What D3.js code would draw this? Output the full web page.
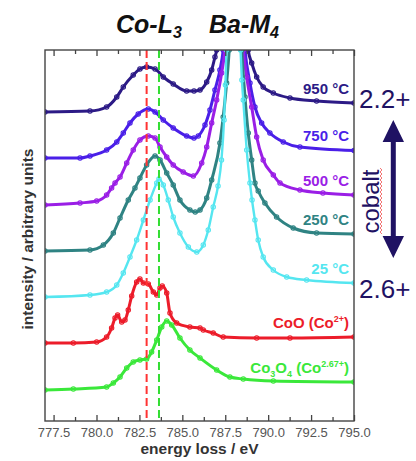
<!DOCTYPE html>
<html>
<head>
<meta charset="utf-8">
<script src="https://cdn.jsdelivr.net/npm/d3@7"></script>
<style>
  body { margin: 0; background: #fff; }
  svg { display: block; font-family: "Liberation Sans", Arial, sans-serif; }
</style>
</head>
<body>
<svg id="chart" width="416" height="461"></svg>
<script>
// energy loss (eV) and intensity (arb. units)
var e950 = [777.00, 779.62, 780.59, 781.18, 781.56, 782.14, 782.53, 782.92, 783.41, 783.89, 784.47, 785.25, 785.68, 786.03, 786.42, 786.71, 786.90, 787.00, 787.20, 787.92, 788.64, 788.84, 789.04, 789.33, 789.71, 790.30, 791.27, 792.82, 795.00];
var i950 = [30.9, 31.0, 31.4, 32.4, 33.4, 34.6, 35.2, 35.4, 35.2, 34.4, 33.7, 33.0, 33.0, 33.1, 33.9, 35.1, 36.4, 37.1, 41.5, 56, 41.5, 37.1, 35.8, 34.4, 33.4, 32.8, 32.3, 32.0, 31.8];

var e750 = [777.00, 779.04, 779.62, 780.59, 781.18, 781.56, 781.95, 782.43, 783.02, 783.41, 783.89, 784.47, 785.25, 785.68, 785.93, 786.32, 786.61, 786.90, 787.19, 787.38, 787.55, 787.92, 788.48, 788.65, 788.94, 789.23, 789.62, 790.10, 790.88, 791.85, 795.00];
var i750 = [26.3, 26.3, 26.5, 27.1, 27.9, 28.8, 29.8, 30.7, 31.2, 30.9, 30.1, 29.3, 28.5, 28.3, 28.5, 29.6, 31.1, 33.1, 35.1, 37.1, 41.0, 52, 41.0, 37.1, 33.8, 31.4, 29.8, 28.8, 27.9, 27.4, 27.05];

var e500 = [777.00, 779.04, 780.01, 780.59, 780.88, 781.08, 781.37, 781.76, 782.14, 782.53, 783.02, 783.41, 783.70, 784.09, 784.47, 785.05, 785.64, 786.13, 786.42, 786.71, 787.00, 787.29, 787.48, 787.62, 787.92, 788.42, 788.55, 788.75, 789.04, 789.33, 789.71, 790.30, 790.69, 791.85, 793.19, 795.00];
var i500 = [21.6, 21.8, 22.0, 22.6, 23.3, 23.8, 24.4, 25.8, 27.1, 28.1, 28.5, 28.3, 27.4, 26.4, 25.6, 24.9, 24.5, 25.8, 27.4, 29.8, 32.1, 34.8, 37.1, 40.5, 48, 40.5, 37.1, 34.4, 31.4, 28.4, 26.1, 24.6, 23.8, 23.1, 22.8, 22.6];

var e250 = [777.00, 779.62, 780.40, 780.98, 781.37, 781.85, 782.24, 782.53, 782.92, 783.41, 783.70, 784.09, 784.47, 784.86, 785.44, 785.75, 786.03, 786.42, 786.71, 787.19, 787.38, 787.58, 787.73, 787.83, 787.95, 788.36, 788.46, 788.65, 788.84, 789.04, 789.23, 789.42, 789.81, 790.49, 791.46, 792.82, 795.00];
var i250 = [17.0, 17.1, 17.6, 18.8, 20.3, 22.1, 23.3, 24.3, 25.6, 26.5, 26.1, 24.8, 23.6, 22.1, 21.1, 20.9, 21.1, 22.3, 24.1, 27.8, 30.4, 33.8, 37.1, 40.5, 46, 40.5, 37.1, 32.4, 28.8, 26.1, 23.8, 23.0, 21.8, 20.4, 19.3, 18.8, 18.7];

var e25 = [777.00, 779.62, 780.59, 781.18, 781.56, 781.95, 782.34, 782.73, 783.12, 783.51, 783.64, 783.89, 784.18, 784.47, 784.86, 785.35, 785.84, 786.22, 786.51, 786.80, 787.08, 787.28, 787.43, 787.51, 787.57, 787.66, 787.97, 788.30, 788.39, 788.47, 788.55, 788.75, 788.94, 789.06, 789.23, 789.42, 789.71, 790.30, 791.08, 792.24, 795.00];
var i25 = [12.4, 12.6, 12.9, 13.6, 14.8, 16.4, 18.1, 20.1, 22.1, 23.8, 24.2, 23.6, 22.1, 20.4, 18.8, 17.4, 16.9, 17.6, 19.1, 21.4, 23.5, 26.1, 30.1, 33.6, 37.1, 40.1, 60, 40.1, 37.1, 34.1, 32.1, 27.1, 23.8, 22.1, 20.1, 18.1, 16.4, 15.1, 14.4, 14.1, 13.8];

var eCoO = [777.00, 778.65, 780.01, 780.59, 780.88, 781.08, 781.23, 781.47, 781.66, 781.85, 782.05, 782.34, 782.53, 782.73, 783.02, 783.31, 783.51, 783.70, 783.83, 784.09, 784.28, 784.67, 785.44, 786.03, 786.22, 786.80, 787.38, 789.33, 791.27, 795.00];
var iCoO = [7.8, 7.8, 7.9, 8.4, 9.3, 10.3, 10.6, 9.9, 10.1, 11.1, 12.5, 13.9, 14.2, 13.8, 13.7, 12.9, 12.6, 13.3, 13.5, 12.8, 10.8, 9.8, 9.4, 9.3, 9.1, 8.8, 8.4, 8.3, 8.3, 8.4];

var eCo3O4 = [777.00, 778.65, 780.59, 780.98, 781.37, 781.76, 782.14, 782.53, 782.92, 783.21, 783.51, 783.80, 784.09, 784.38, 784.86, 785.44, 786.03, 787.00, 787.77, 788.55, 790.30, 795.00];
var iCo3O4 = [3.1, 3.2, 3.4, 3.8, 4.4, 5.3, 5.9, 6.1, 6.2, 6.9, 8.1, 9.4, 10.0, 9.6, 8.3, 7.1, 6.3, 5.1, 4.4, 4.2, 4.0, 3.9];

var xTicks = [777.5, 780.0, 782.5, 785.0, 787.5, 790.0, 792.5, 795.0];
var xMinor = [778.75, 781.25, 783.75, 786.25, 788.75, 791.25, 793.75];
var refLines = [782.92, 783.64]; // Co2+ and Co2.67+ peak positions

var series = [
  { label: "950 °C", e: e950, i: i950 },
  { label: "750 °C", e: e750, i: i750 },
  { label: "500 °C", e: e500, i: i500 },
  { label: "250 °C", e: e250, i: i250 },
  { label: "25 °C",  e: e25,  i: i25 },
  { label: "CoO",    e: eCoO, i: iCoO },
  { label: "Co3O4",  e: eCo3O4, i: iCo3O4 }
];
var colors = ["#2c1a86", "#4a1fe8", "#9a1ee6", "#2f8383", "#55e6f0", "#ec1c2a", "#3ae83a"];
var refColors = ["#ff3333", "#33dd33"];

var svg = d3.select("#chart");
var mLeft = 45, mRight = 354, mTop = 50, mBottom = 421;

var x = d3.scaleLinear().domain([777, 795]).range([mLeft, mRight]);
var y = d3.scaleLinear().domain([0, 37.1]).range([mBottom, mTop]);

svg.append("defs").append("clipPath").attr("id", "plot")
  .append("rect")
  .attr("x", mLeft).attr("y", mTop).attr("width", mRight - mLeft).attr("height", mBottom - mTop);

var line = d3.line()
  .x(function (d) { return x(d[0]); })
  .y(function (d) { return y(d[1]); })
  .curve(d3.curveMonotoneX);

var plot = svg.append("g").attr("clip-path", "url(#plot)");

series.forEach(function (s, k) {
  var pts = s.e.map(function (v, j) { return [v, s.i[j]]; });
  var g = plot.append("g");
  g.append("path").datum(pts)
    .attr("d", line)
    .attr("fill", "none")
    .attr("stroke", colors[k])
    .attr("stroke-width", k == 4 ? 2.4 : 3)
    .attr("stroke-linejoin", "round");
  // open markers, as in the measured spectra
  g.selectAll("circle").data(pts).enter().append("circle")
    .attr("cx", function (d) { return x(d[0]); })
    .attr("cy", function (d) { return y(d[1]); })
    .attr("r", 2.2)
    .attr("fill", "none")
    .attr("stroke", colors[k])
    .attr("stroke-width", 1.1);
});

// dashed reference lines
plot.selectAll(".ref").data(refLines).enter().append("line")
  .attr("x1", function (d) { return x(d); }).attr("x2", function (d) { return x(d); })
  .attr("y1", mTop).attr("y2", mBottom)
  .attr("stroke", function (d, k) { return refColors[k]; })
  .attr("stroke-width", 2)
  .attr("stroke-dasharray", "8,4");

// curve labels
var labels = svg.append("g")
  .attr("font-weight", "bold").attr("font-size", 15).attr("text-anchor", "end");
series.forEach(function (s, k) {
  var t = labels.append("text")
    .attr("x", mRight - 5)
    .attr("y", y(s.i[s.i.length - 1]) - 9.5)
    .attr("fill", colors[k]);
  if (s.label == "CoO") {
    t.append("tspan").text("CoO (Co");
    t.append("tspan").attr("dy", -6).attr("font-size", 9).text("2+");
    t.append("tspan").attr("dy", 6).text(")");
  } else if (s.label == "Co3O4") {
    t.append("tspan").text("Co");
    t.append("tspan").attr("dy", 4).attr("font-size", 9).text("3");
    t.append("tspan").attr("dy", -4).text("O");
    t.append("tspan").attr("dy", 4).attr("font-size", 9).text("4");
    t.append("tspan").attr("dy", -4).text(" (Co");
    t.append("tspan").attr("dy", -6).attr("font-size", 9).text("2.67+");
    t.append("tspan").attr("dy", 6).text(")");
  } else {
    t.text(s.label);
  }
});

// axes
function styleAxis(g) {
  g.select(".domain").remove();
  g.selectAll(".tick line").attr("stroke", "#444").attr("stroke-width", 1.3);
  g.selectAll(".tick text").attr("fill", "#555").attr("font-size", 13)
    .attr("font-family", "Liberation Sans, Arial, sans-serif");
}
svg.append("g").attr("transform", "translate(0," + mBottom + ")")
  .call(d3.axisBottom(x).tickValues(xTicks).tickSize(-6).tickPadding(7).tickFormat(d3.format(".1f")))
  .call(styleAxis);
svg.append("g").attr("transform", "translate(0," + mBottom + ")")
  .call(d3.axisBottom(x).tickValues(xMinor).tickSize(-4).tickFormat(""))
  .call(styleAxis);
svg.append("g").attr("transform", "translate(0," + mTop + ")")
  .call(d3.axisTop(x).tickValues(xTicks).tickSize(-6).tickFormat(""))
  .call(styleAxis);
svg.append("g").attr("transform", "translate(0," + mTop + ")")
  .call(d3.axisTop(x).tickValues(xMinor).tickSize(-4).tickFormat(""))
  .call(styleAxis);

svg.append("rect")
  .attr("x", mLeft).attr("y", mTop).attr("width", mRight - mLeft).attr("height", mBottom - mTop)
  .attr("fill", "none").attr("stroke", "#444").attr("stroke-width", 1.4);

// axis titles
svg.append("text")
  .attr("x", (mLeft + mRight) / 2).attr("y", 454)
  .attr("text-anchor", "middle").attr("font-weight", "bold").attr("font-size", 15.5)
  .attr("fill", "#333").text("energy loss / eV");
svg.append("text")
  .attr("transform", "translate(32.5,239) rotate(-90)")
  .attr("text-anchor", "middle").attr("font-weight", "bold").attr("font-size", 15.5)
  .attr("fill", "#333").text("intensity / arbitrary units");

// edge titles
var head = svg.append("g").attr("font-weight", "bold").attr("font-style", "italic")
  .attr("font-size", 25).attr("fill", "#111");
var h1 = head.append("text").attr("x", 116).attr("y", 33);
h1.append("tspan").text("Co-L");
h1.append("tspan").attr("dy", 5).attr("font-size", 16).text("3");
var h2 = head.append("text").attr("x", 209).attr("y", 33);
h2.append("tspan").text("Ba-M");
h2.append("tspan").attr("dy", 5).attr("font-size", 16).text("4");

// oxidation state annotation
var navy = "#1f1263";
svg.append("text").attr("x", 359).attr("y", 108).attr("font-size", 26).attr("fill", navy).text("2.2+");
svg.append("text").attr("x", 359).attr("y", 298).attr("font-size", 26).attr("fill", navy).text("2.6+");
svg.append("path")
  .attr("d", "M393.3,120 L404,142 L395.8,142 L395.8,236 L404,236 L393.3,258 L382.6,236 L390.8,236 L390.8,142 L382.6,142 Z")
  .attr("fill", navy);
svg.append("text")
  .attr("transform", "translate(378.5,201.5) rotate(-90)")
  .attr("text-anchor", "middle").attr("font-size", 24).attr("fill", navy).text("cobalt");
var zz = [];
for (var yy = 168; yy <= 235; yy += 2) zz.push([yy % 4 == 0 ? 380 : 382, yy]);
svg.append("path").attr("d", d3.line()(zz)).attr("fill", "none").attr("stroke", "#f05050").attr("stroke-width", 0.8);
</script>
</body>
</html>
